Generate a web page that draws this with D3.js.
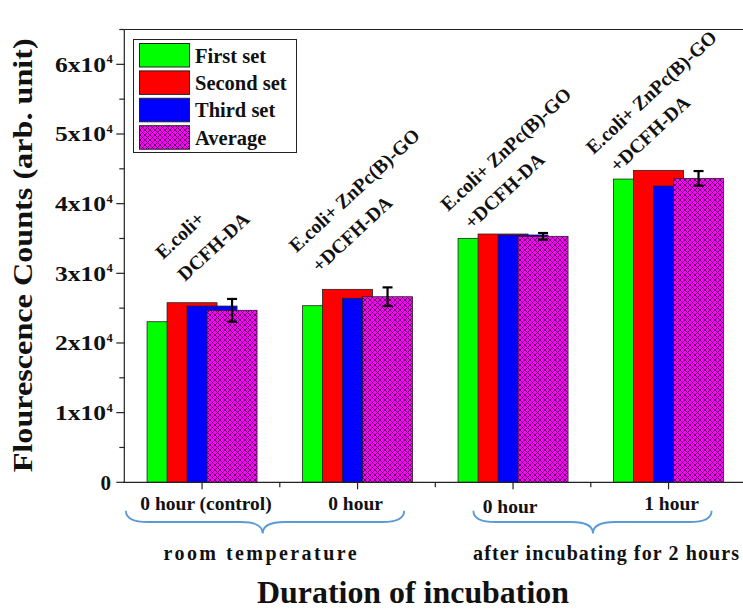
<!DOCTYPE html>
<html>
<head>
<meta charset="utf-8">
<script src="https://cdn.jsdelivr.net/npm/d3@7"></script>
<style>
  html, body { margin: 0; padding: 0; background: #fff; }
  svg { display: block; }
  text { font-family: "Liberation Serif", "Times New Roman", serif; font-weight: bold; fill: #111; }
</style>
</head>
<body>
<svg id="chart" width="743" height="610"></svg>
<script>
// ---- data ----
const categories = ["0 hour (control)", "0 hour", "0 hour", "1 hour"];
const seriesNames = ["First set", "Second set", "Third set", "Average"];
const firstSet  = [23050, 25350, 35020, 43530];
const secondSet = [25780, 27700, 35640, 44780];
const thirdSet  = [25300, 26410, 35500, 42530];
const average   = [24690, 26640, 35310, 43630];
const avgError  = [1630, 1340, 475, 1050];
const yTicks = [0, 10000, 20000, 30000, 40000, 50000, 60000];
const annotationLines = [
  ["E.coli+", "DCFH-DA"],
  ["E.coli+ ZnPc(B)-GO", "+DCFH-DA"],
  ["E.coli+ ZnPc(B)-GO", "+DCFH-DA"],
  ["E.coli+ ZnPc(B)-GO", "+DCFH-DA"]
];
// annotation anchors in data units: [x, y] for each of the two lines
const annotationAnchors = [
  [[0.749, 31910], [0.891, 28750]],
  [[1.608, 32890], [1.756, 30020]],
  [[2.582, 38800], [2.736, 36210]],
  [[3.518, 46980], [3.672, 44400]]
];
const groupLabels = ["room temperature", "after incubating for 2 hours"];
// brace spans in category units: [start, end, tip]
const braceSpans = [[0.51, 2.30, 1.39], [2.745, 4.277, 3.514]];

const seriesValues = [firstSet, secondSet, thirdSet, average];
const seriesColors = ["#00ff00", "#ff0000", "#0000ff", "#ff00ff"];

// ---- layout ----
const svg = d3.select("#chart");
const plotLeft = 124.3, plotBottom = 482.3, plotTop = 29.5;
const unitPx = 155.5;

const x = d3.scaleLinear().domain([0.5, 4.5]).range([plotLeft, plotLeft + 4 * unitPx]);
const y = d3.scaleLinear().domain([0, 65000]).range([plotBottom, plotTop]);

const barWidth = 0.3215;   // in category units
const barStep = 0.1286;    // offset between successive series

// cross-hatch pattern for the average bars
const defs = svg.append("defs");
const pat = defs.append("pattern")
  .attr("id", "hatch").attr("patternUnits", "userSpaceOnUse")
  .attr("width", 5).attr("height", 5);
pat.append("rect").attr("width", 5).attr("height", 5).attr("fill", "#ff00ff");
pat.append("path").attr("d", "M0,0 L5,5 M5,0 L0,5 M-1,4 L1,6 M4,-1 L6,1 M-1,1 L1,-1 M4,6 L6,4")
  .attr("stroke", "#3a003a").attr("stroke-width", 0.8).attr("fill", "none");

// ---- bars ----
seriesValues.forEach((vals, s) => {
  svg.append("g").selectAll("rect").data(vals).join("rect")
    .attr("x", (d, i) => x(i + 1 + (s - 1.5) * barStep - barWidth / 2))
    .attr("width", x(barWidth) - x(0))
    .attr("y", d => y(d))
    .attr("height", d => y(0) - y(d))
    .attr("fill", s === 3 ? "url(#hatch)" : seriesColors[s])
    .attr("stroke", "#222").attr("stroke-width", 0.8);
});

// error bars on the average series
const eb = svg.append("g").attr("stroke", "#000").attr("stroke-width", 2.2);
average.forEach((v, i) => {
  const xc = x(i + 1 + 1.5 * barStep); // centre of the average bar
  const top = y(v + avgError[i]), bot = y(v - avgError[i]);
  eb.append("line").attr("x1", xc).attr("x2", xc).attr("y1", top).attr("y2", bot);
  eb.append("line").attr("x1", xc - 5).attr("x2", xc + 5).attr("y1", top).attr("y2", top);
  eb.append("line").attr("x1", xc - 5).attr("x2", xc + 5).attr("y1", bot).attr("y2", bot);
});

// ---- axes ----
const axisG = svg.append("g").attr("stroke", "#222").attr("stroke-width", 1.2);
axisG.append("line").attr("x1", plotLeft).attr("x2", plotLeft).attr("y1", plotTop).attr("y2", plotBottom);
axisG.append("line").attr("x1", plotLeft - 1).attr("x2", 743).attr("y1", plotBottom).attr("y2", plotBottom);
axisG.append("line").attr("x1", plotLeft).attr("x2", 743).attr("y1", plotTop).attr("y2", plotTop);

// y ticks (major + minor)
d3.range(0, 65001, 5000).forEach(v => {
  const major = v % 10000 === 0;
  axisG.append("line")
    .attr("x1", plotLeft - (major ? 8 : 5)).attr("x2", plotLeft)
    .attr("y1", y(v)).attr("y2", y(v));
});
// x ticks (major at categories, minor between)
d3.range(1, 4.51, 0.5).forEach(v => {
  const major = Number.isInteger(v);
  axisG.append("line")
    .attr("x1", x(v)).attr("x2", x(v))
    .attr("y1", plotBottom).attr("y2", plotBottom + (major ? 7 : 5));
});

// y tick labels: "Nx10^4"
yTicks.forEach(v => {
  const t = svg.append("text")
    .attr("y", y(v) + 7.5)
    .style("font-size", "21px");
  if (v === 0) {
    t.attr("x", 111).attr("text-anchor", "end").text("0");
  } else {
    t.attr("x", 106).attr("text-anchor", "end")
      .append("tspan").attr("textLength", 51).attr("lengthAdjust", "spacingAndGlyphs")
      .text(`${v / 10000}x10`);
    svg.append("text").attr("x", 106.5).attr("y", y(v) - 1)
      .style("font-size", "12.5px").text("4");
  }
});

// y title
svg.append("text")
  .attr("transform", `translate(32,${y(0) - 10}) rotate(-90)`)
  .attr("textLength", 434).attr("lengthAdjust", "spacingAndGlyphs")
  .style("font-size", "27px")
  .text("Flourescence Counts (arb. unit)");

// category labels under the axis
const catDx = [4, -2, -3, 3];
const catDy = [0, 0, 3, 0];
categories.forEach((c, i) => {
  svg.append("text")
    .attr("x", x(i + 1) + catDx[i]).attr("y", 510 + catDy[i])
    .attr("text-anchor", "middle")
    .style("font-size", "19.5px")
    .text(c);
});

// braces
const braceTop = 510.7, braceMid = 522, braceTip = 533.5, q = 22;
braceSpans.forEach(([a, b, m]) => {
  const x0 = x(a), x1 = x(b), xm = x(m);
  const p = `M${x0},${braceTop} Q${x0},${braceMid} ${x0 + q},${braceMid} ` +
            `L${xm - q},${braceMid} Q${xm},${braceMid} ${xm},${braceTip} ` +
            `Q${xm},${braceMid} ${xm + q},${braceMid} L${x1 - q},${braceMid} ` +
            `Q${x1},${braceMid} ${x1},${braceTop}`;
  svg.append("path").attr("d", p).attr("fill", "none")
    .attr("stroke", "#5b9bd5").attr("stroke-width", 1.8);
});

// group labels
svg.append("text").attr("x", x(1.373)).attr("y", 560).attr("text-anchor", "middle")
  .attr("textLength", 193).attr("lengthAdjust", "spacing")
  .style("font-size", "20px").text(groupLabels[0]);
svg.append("text").attr("x", x(2.743)).attr("y", 560)
  .attr("textLength", 266).attr("lengthAdjust", "spacing")
  .style("font-size", "20px").text(groupLabels[1]);

// x title
svg.append("text").attr("x", 413).attr("y", 603).attr("text-anchor", "middle")
  .attr("textLength", 312).attr("lengthAdjust", "spacingAndGlyphs")
  .style("font-size", "32px").text("Duration of incubation");

// rotated sample annotations above each group
annotationLines.forEach((lines, i) => {
  lines.forEach((txt, k) => {
    const [ax, ay] = annotationAnchors[i][k];
    svg.append("text")
      .attr("transform", `translate(${x(ax)},${y(ay)}) rotate(-43)`)
      .style("font-size", "19.5px")
      .text(txt);
  });
});

// ---- legend ----
const lg = svg.append("g");
lg.append("rect").attr("x", 133.5).attr("y", 39.5).attr("width", 163).attr("height", 113)
  .attr("fill", "#fff").attr("stroke", "#222").attr("stroke-width", 1);
seriesNames.forEach((name, i) => {
  const ry = 43.5 + i * 27.4;
  lg.append("rect").attr("x", 139.5).attr("y", ry).attr("width", 50).attr("height", 23.5)
    .attr("fill", i === 3 ? "url(#hatch)" : seriesColors[i])
    .attr("stroke", "#222").attr("stroke-width", 1);
  lg.append("text").attr("x", 195).attr("y", ry + 19)
    .style("font-size", "20.5px").text(name);
});
</script>
</body>
</html>
